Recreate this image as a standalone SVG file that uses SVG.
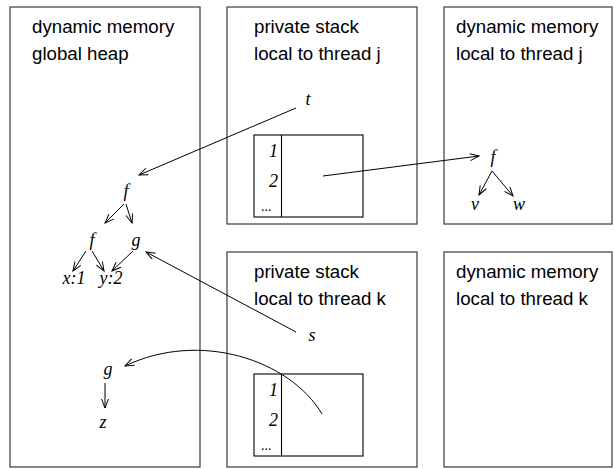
<svg xmlns="http://www.w3.org/2000/svg" width="615" height="469" viewBox="0 0 615 469">
<style>
.box{fill:none;stroke:#3a3a3a;stroke-width:1.2}
.tbl{fill:none;stroke:#000;stroke-width:1.1}
.hdr{font-family:"Liberation Sans",Arial,sans-serif;font-size:18.7px;fill:#000}
.lbl{font-family:"Liberation Serif","Times New Roman",serif;font-style:italic;font-size:18px;fill:#000;text-anchor:middle}
.num{font-family:"Liberation Serif","Times New Roman",serif;font-style:italic;font-size:18px;fill:#000;text-anchor:end}
.dots{font-family:"Liberation Serif","Times New Roman",serif;font-size:14px;fill:#000}
.con{fill:none;stroke:#000;stroke-width:1;marker-end:url(#arr)}
</style>
<defs>
<marker id="arr" markerUnits="userSpaceOnUse" markerWidth="12" markerHeight="10" refX="10" refY="4" orient="auto">
<path d="M1,0.5 L10,4 L1,7.5" fill="none" stroke="#000" stroke-width="1"/>
</marker>
</defs>
<g id="heap">
<rect class="box" x="10" y="7" width="190" height="460"/>
<text class="hdr" x="32" y="33">dynamic memory</text>
<text class="hdr" x="32" y="60">global heap</text>
</g>
<g id="stack-j">
<rect class="box" x="227" y="7" width="190" height="217"/>
<text class="hdr" x="254" y="33">private stack</text>
<text class="hdr" x="254" y="60">local to thread j</text>
<rect class="tbl" x="254" y="135" width="109" height="82"/>
<line class="tbl" x1="281.5" y1="135" x2="281.5" y2="217"/>
<text class="num" x="278" y="157">1</text>
<text class="num" x="278" y="187">2</text>
<text class="dots" x="261" y="211">...</text>
</g>
<g id="dyn-j">
<rect class="box" x="444" y="7" width="168" height="217"/>
<text class="hdr" x="456" y="33">dynamic memory</text>
<text class="hdr" x="456" y="60">local to thread j</text>
</g>
<g id="stack-k">
<rect class="box" x="227" y="252" width="190" height="215"/>
<text class="hdr" x="254" y="278">private stack</text>
<text class="hdr" x="254" y="305">local to thread k</text>
<rect class="tbl" x="254" y="374" width="109" height="82"/>
<line class="tbl" x1="281.5" y1="374" x2="281.5" y2="456"/>
<text class="num" x="278" y="396">1</text>
<text class="num" x="278" y="426">2</text>
<text class="dots" x="261" y="450">...</text>
</g>
<g id="dyn-k">
<rect class="box" x="444" y="252" width="168" height="215"/>
<text class="hdr" x="456" y="278">dynamic memory</text>
<text class="hdr" x="456" y="305">local to thread k</text>
</g>
<g id="var-t"><text class="lbl" x="308" y="105">t</text></g>
<g id="var-s"><text class="lbl" x="312" y="341">s</text></g>
<g id="heap-f"><text class="lbl" x="126" y="197">f</text></g>
<g id="heap-f2"><text class="lbl" x="92" y="246">f</text></g>
<g id="heap-g"><text class="lbl" x="136" y="246">g</text></g>
<g id="heap-x"><text class="lbl" x="74" y="284">x:1</text></g>
<g id="heap-y"><text class="lbl" x="111" y="284">y:2</text></g>
<g id="heap-g2"><text class="lbl" x="108" y="375">g</text></g>
<g id="heap-z"><text class="lbl" x="103" y="428">z</text></g>
<g id="j-f"><text class="lbl" x="493" y="163">f</text></g>
<g id="j-v"><text class="lbl" x="475" y="210">v</text></g>
<g id="j-w"><text class="lbl" x="519" y="210">w</text></g>
<g id="connectors">
<line class="con" x1="296" y1="108" x2="139" y2="175"/>
<line class="con" x1="323" y1="176" x2="479" y2="156"/>
<line class="con" x1="296" y1="332" x2="146" y2="252"/>
<path class="con" d="M322,414 C290,360 200,330 125,366"/>
<line class="con" x1="124" y1="204" x2="105" y2="223"/>
<line class="con" x1="126" y1="204" x2="132" y2="223"/>
<line class="con" x1="86" y1="251" x2="73" y2="271"/>
<line class="con" x1="92" y1="251" x2="104" y2="271"/>
<line class="con" x1="133" y1="251" x2="112" y2="271"/>
<line class="con" x1="105" y1="383" x2="105" y2="408"/>
<line class="con" x1="492" y1="171" x2="479" y2="195"/>
<line class="con" x1="492" y1="171" x2="513" y2="196"/>
</g>
</svg>
